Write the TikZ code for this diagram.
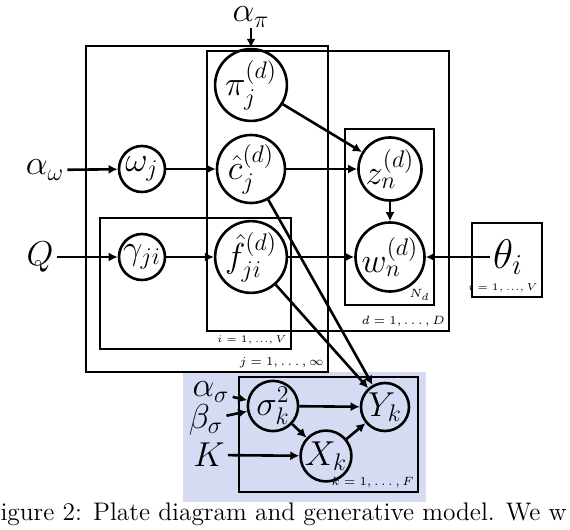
\documentclass[tikz,border=0pt]{standalone}
\usepackage{amsmath,amssymb}
\usepackage{tikz}
\usetikzlibrary{arrows.meta}

\definecolor{plateblue}{RGB}{212,219,243}

\begin{document}
\begin{tikzpicture}[x=5pt, y=-5pt, >={Latex[length=4.5pt,width=4.5pt]}, line width=1.3pt,
    var/.style={circle, draw, inner sep=0pt, minimum size=30pt, font=\LARGE},
    smallvar/.style={var, minimum size=23pt},
    hyper/.style={font=\LARGE, inner sep=1pt},
    platetag/.style={anchor=south east, font=\fontsize{6}{7}\selectfont, inner sep=1.5pt},
    tinytag/.style={platetag, font=\fontsize{5.5}{6}\selectfont}]
    % frame of the page
    \useasboundingbox (0,0) rectangle (57,53);
    \clip (0,0) rectangle (57,53);

    % blue box behind the generative model
    \fill[plateblue] (18.3,37.2) rectangle (42.6,50.2);

    % plates
    \draw (8.6,4.6) rectangle (32.8,37.2);
    \node[platetag] at (32.8,37.2) {$j=1,\ldots,\infty$};
    \draw (20.7,5.1) rectangle (44.9,33.1);
    \node[platetag] at (44.9,33.1) {$d=1,\ldots,D$};
    \draw (10.0,21.8) rectangle (29.1,34.9);
    \node[tinytag] at (29.1,34.9) {$i=1,...,V$};
    \draw (34.5,12.9) rectangle (43.4,30.5);
    \node[platetag] at (43.4,30.5) {$N_d$};
    \draw (47.2,22.3) rectangle (54.2,29.7);
    \node[tinytag] at (54.2,29.7) {$i=1,...,V$};
    \draw (23.9,37.7) rectangle (41.8,49.2);
    \node[platetag] at (41.8,49.2) {$k=1,\ldots,F$};

    % variables
    \node[var] (pi) at (25.1,8.5) {$\pi_j^{(d)}$};
    \node[var] (c) at (25.1,16.9) {$\hat{c}_j^{(d)}$};
    \node[var] (f) at (25.1,25.7) {$\hat{f}_{ji}^{(d)}$};
    \node[smallvar] (omega) at (14.2,16.9) {$\omega_j$};
    \node[smallvar] (gamma) at (14.2,25.7) {$\gamma_{ji}$};
    \node[var] (z) at (39.0,16.9) {$z_n^{(d)}$};
    \node[var] (w) at (39.0,25.7) {$w_n^{(d)}$};
    \node[var, minimum size=21pt] (sigma) at (27.3,40.6) {$\sigma_k^2$};
    \node[var, minimum size=24pt] (Y) at (38.5,40.7) {$Y_k$};
    \node[var, minimum size=24pt] (X) at (32.6,45.6) {$X_k$};

    % hyperparameters
    \node[hyper, inner sep=0pt] (api) at (25.1,1.7) {$\alpha_\pi$};
    \node[hyper] (aomega) at (4.5,17.0) {$\alpha_\omega$};
    \node[hyper] (Q) at (4.0,25.7) {$Q$};
    \node[hyper, font=\huge] (theta) at (50.8,25.7) {$\theta_i$};
    \node[hyper] (asigma) at (21.1,39.2) {$\alpha_\sigma$};
    \node[hyper] (bsigma) at (20.6,42.0) {$\beta_\sigma$};
    \node[hyper] (K) at (20.9,45.5) {$K$};

    % edges
    \draw[->] (api) -- (pi);
    \draw[->] (aomega) -- (omega);
    \draw[->] (omega) -- (c);
    \draw[->] (Q) -- (gamma);
    \draw[->] (gamma) -- (f);
    \draw[->] (pi) -- (z);
    \draw[->] (c) -- (z);
    \draw[->] (z) -- (w);
    \draw[->] (f) -- (w);
    \draw[->] (theta) -- (w);
    \draw[->] (c) -- (Y);
    \draw[->] (f) -- (Y);
    \draw[->] (asigma) -- (sigma);
    \draw[->] (bsigma) -- (sigma);
    \draw[->] (K) -- (X);
    \draw[->] (sigma) -- (Y);
    \draw[->] (sigma) -- (X);
    \draw[->] (X) -- (Y);

    % caption, cut off by the frame
    \node[anchor=base west, font=\fontsize{12.7}{15}\selectfont, inner sep=0pt] (caption) at (-1.7,52.1)
        {Figure 2: Plate diagram and generative model. We w};
\end{tikzpicture}
\end{document}
